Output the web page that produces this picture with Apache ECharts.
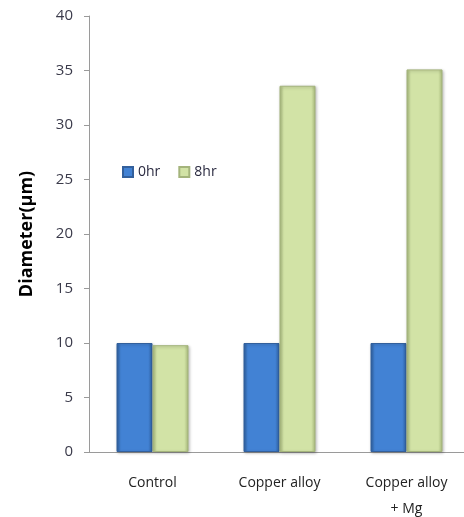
<!DOCTYPE html>
<html>
<head>
<meta charset="utf-8">
<script src="https://cdn.jsdelivr.net/npm/echarts@6/dist/echarts.min.js"></script>
<style>
  html, body { margin: 0; padding: 0; background: #ffffff; }
  #chart { width: 464px; height: 517px; }
</style>
</head>
<body>
<div id="chart"></div>
<script>
// Bubble diameter by sample type, before and after 8 hours
const categories = ['Control', 'Copper alloy', 'Copper alloy\n+ Mg'];
const hr0 = [10.0, 10.0, 10.0];
const hr8 = [9.8, 33.6, 35.1];
const seriesNames = ['0hr', '8hr'];

const fontFamily = '"Open Sans", "Noto Sans", sans-serif';

// Bevelled look: darker edges, lighter face
function barColor(face, edge) {
  return new echarts.graphic.LinearGradient(0, 0, 1, 0, [
    { offset: 0, color: edge },
    { offset: 0.12, color: face },
    { offset: 0.88, color: face },
    { offset: 1, color: edge }
  ]);
}

const chart = echarts.init(document.getElementById('chart'), null, { renderer: 'canvas' });

chart.setOption({
  animation: false,
  backgroundColor: '#ffffff',
  grid: {
    left: 89, top: 16, height: 436, width: 381,
    containLabel: false,
    outerBoundsMode: 'none'
  },
  legend: {
    left: 117,
    top: 160,
    itemWidth: 10,
    itemHeight: 10,
    itemGap: 18,
    icon: 'rect',
    textStyle: { fontFamily, fontSize: 14, color: '#2a2a40' },
    data: seriesNames
  },
  xAxis: {
    type: 'category',
    data: categories,
    axisLine: { lineStyle: { color: '#9a9a9a', width: 1 } },
    axisTick: { show: false },
    axisLabel: {
      margin: 18,
      fontFamily,
      fontSize: 14,
      color: '#222222',
      lineHeight: 26,
      interval: 0
    }
  },
  yAxis: {
    type: 'value',
    min: 0,
    max: 40,
    interval: 5,
    name: 'Diameter(μm)',
    nameLocation: 'middle',
    nameGap: 53,
    nameTextStyle: { fontFamily, fontSize: 18, fontWeight: 'bold', color: '#000000' },
    axisLine: { show: true, lineStyle: { color: '#9a9a9a', width: 1 } },
    axisTick: { show: true, length: 5, lineStyle: { color: '#9a9a9a' } },
    splitLine: { show: false },
    axisLabel: { margin: 16, fontFamily, fontSize: 15, color: '#3a3a4a' }
  },
  series: [
    {
      name: seriesNames[0],
      type: 'bar',
      data: hr0,
      barWidth: 36,
      barGap: '0%',
      itemStyle: {
        color: barColor('#4282d4', '#2f5f9f'),
        borderColor: '#33609c',
        borderWidth: 1,
        shadowColor: 'rgba(0,0,0,0.25)',
        shadowBlur: 3,
        shadowOffsetX: 1,
        shadowOffsetY: 1
      }
    },
    {
      name: seriesNames[1],
      type: 'bar',
      data: hr8,
      barWidth: 36,
      itemStyle: {
        color: barColor('#d2e3a6', '#a9bb7d'),
        borderColor: '#a4b47c',
        borderWidth: 1,
        shadowColor: 'rgba(0,0,0,0.25)',
        shadowBlur: 3,
        shadowOffsetX: 1,
        shadowOffsetY: 1
      }
    }
  ]
});
</script>
</body>
</html>
